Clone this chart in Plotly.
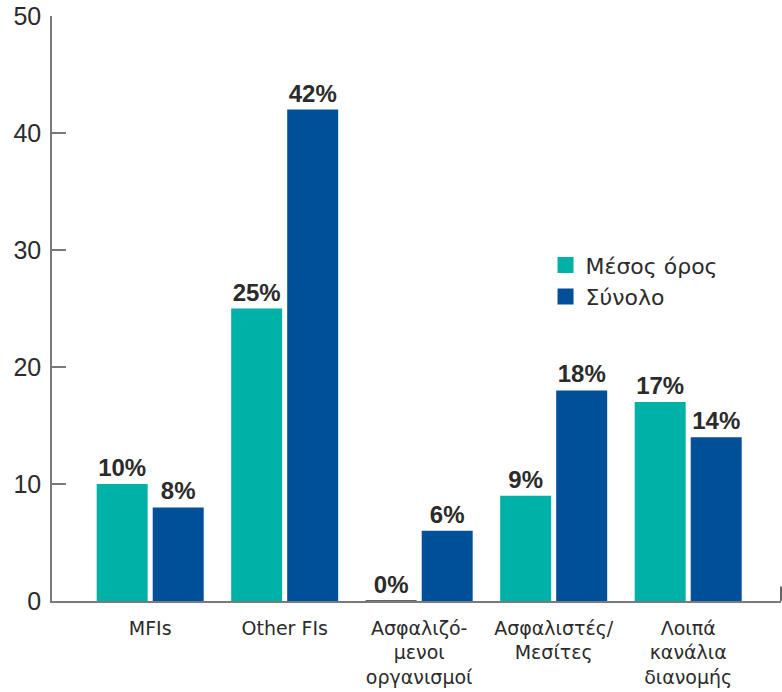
import plotly.graph_objects as go

categories = [
    "MFIs",
    "Other FIs",
    "Ασφαλιζό-<br>μενοι<br>οργανισμοί",
    "Ασφαλιστές/<br>Μεσίτες",
    "Λοιπά<br>κανάλια<br>διανομής",
]
mesos_oros = [10, 25, 0, 9, 17]
synolo = [8, 42, 6, 18, 14]
y_ticks = [0, 10, 20, 30, 40, 50]

TEAL = "#00b1a8"
BLUE = "#004f99"
AXIS = "#7a7a7a"
TEXT = "#2b2b2b"
FONT = "Liberation Sans"
WIDE = "DejaVu Sans"

fig = go.Figure()
fig.add_trace(go.Bar(
    name="Μέσος όρος",
    x=categories,
    y=mesos_oros,
    showlegend=False,
    marker=dict(
        color=TEAL,
        # zero-height bars get a thin outline so they stay visible
        line=dict(color="#333333", width=[1.5 if v == 0 else 0 for v in mesos_oros]),
    ),
    texttemplate="%{y}%",
    textposition="outside",
    constraintext="none",
    cliponaxis=False,
    textfont=dict(family=FONT, size=24, color=TEXT, weight="bold"),
))
fig.add_trace(go.Bar(
    name="Σύνολο",
    x=categories,
    y=synolo,
    showlegend=False,
    marker=dict(color=BLUE, line=dict(width=0)),
    texttemplate="%{y}%",
    textposition="outside",
    constraintext="none",
    cliponaxis=False,
    textfont=dict(family=FONT, size=24, color=TEXT, weight="bold"),
))

# legend entries with larger square swatches
for name, color in [("Μέσος όρος", TEAL), ("Σύνολο", BLUE)]:
    fig.add_trace(go.Scatter(
        name=name, x=[None], y=[None], mode="markers",
        marker=dict(symbol="square", size=16, color=color),
    ))

fig.update_layout(
    width=782,
    height=692,
    margin=dict(l=52, r=1, t=16, b=91),
    paper_bgcolor="white",
    plot_bgcolor="white",
    barmode="group",
    bargap=0.167,
    bargroupgap=0.09,
    font=dict(family=WIDE, color=TEXT, size=20),
    showlegend=True,
    legend=dict(
        x=0.677, y=0.61, xanchor="left", yanchor="top",
        font=dict(family=WIDE, size=22, color=TEXT),
        bgcolor="rgba(0,0,0,0)",
        tracegroupgap=0,
        itemwidth=30,
    ),
    xaxis=dict(
        range=[-0.73, 4.69],
        showline=True, linecolor=AXIS, linewidth=1.5,
        ticks="", showgrid=False,
        tickfont=dict(family=WIDE, size=19, color=TEXT),
        ticklabelstandoff=9,
        automargin=False,
    ),
    yaxis=dict(
        range=[0, 50],
        tickvals=y_ticks,
        showline=True, linecolor=AXIS, linewidth=1.5,
        ticks="inside", ticklen=14, tickcolor=AXIS, tickwidth=1.5,
        showgrid=False, zeroline=False,
        tickfont=dict(family=FONT, size=25, color=TEXT),
        ticklabelstandoff=4,
        automargin=False,
    ),
    shapes=[
        dict(type="line", xref="paper", yref="paper",
             x0=1, x1=1, y0=0, y1=0.025,
             line=dict(color="#333333", width=1.5)),
    ],
)

fig.write_html("out.html")
